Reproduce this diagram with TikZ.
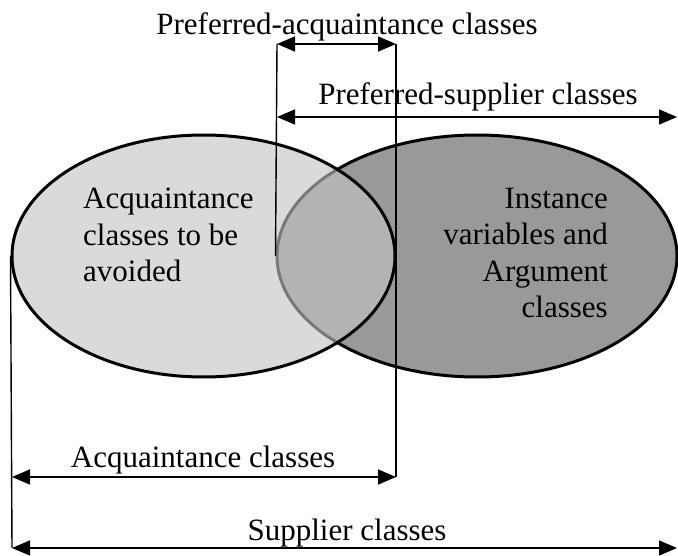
\documentclass[tikz,border=0pt]{standalone}
\usepackage{fontspec}
\setmainfont{Liberation Serif}
\usepackage{xcolor}
\definecolor{avoidgray}{RGB}{195,195,195}
\definecolor{instgray}{RGB}{153,153,153}
\usetikzlibrary{shapes.geometric, arrows.meta}

\begin{document}
\begin{tikzpicture}[x=1pt, y=-1pt,
    setnode/.style={ellipse, draw=black, line width=3pt, inner sep=0pt},
    avoidset/.style={setnode, fill=avoidgray, fill opacity=0.62,
                     minimum width=383pt, minimum height=242pt},
    instset/.style={setnode, fill=instgray, minimum width=400pt, minimum height=242pt},
    lbl/.style={font=\fontsize{31}{36.5}\selectfont, inner sep=0pt},
    dimarr/.style={{Triangle[length=18pt, width=15pt]}-{Triangle[length=18pt, width=15pt]},
                   line width=1.6pt},
    extline/.style={line width=1.4pt},
  ]
  \useasboundingbox (0,0) rectangle (678,556);

  % --- the two sets ---
  \node[instset]  (inst)  at (477,256)   {};
  \node[avoidset] (avoid) at (203.5,256) {};

  \node[lbl, align=left, anchor=north west]  (avoidtxt) at (83,188)
    {Acquaintance\\ classes to be\\ avoided};
  \node[lbl, align=right, anchor=north east] (insttxt)  at (608,188)
    {Instance\\ variables and\\ Argument\\ classes};

  % --- dimension ends ---
  \coordinate (pa-l) at (277,44);
  \coordinate (pa-r) at (396,44);
  \coordinate (ps-l) at (277,117);
  \coordinate (ps-r) at (677,117);
  \coordinate (ac-l) at (12,477);
  \coordinate (ac-r) at (396,477);
  \coordinate (sc-l) at (12,548);
  \coordinate (sc-r) at (677,548);

  % --- extension lines ---
  \draw[extline] (inst.west)  -- (pa-l);
  \draw[extline] (pa-r)       -- (ac-r);
  \draw[extline] (avoid.west) -- (sc-l);

  % --- dimension arrows ---
  \draw[dimarr] (pa-l) -- (pa-r);
  \draw[dimarr] (ps-l) -- (ps-r);
  \draw[dimarr] (ac-l) -- (ac-r);
  \draw[dimarr] (sc-l) -- (sc-r);

  % --- labels ---
  \node[lbl, anchor=base] (patxt) at (347,35)  {Preferred-acquaintance classes};
  \node[lbl, anchor=base] (pstxt) at (478,105) {Preferred-supplier classes};
  \node[lbl, anchor=base] (actxt) at (203,467) {Acquaintance classes};
  \node[lbl, anchor=base] (sctxt) at (347,540) {Supplier classes};
\end{tikzpicture}
\end{document}
